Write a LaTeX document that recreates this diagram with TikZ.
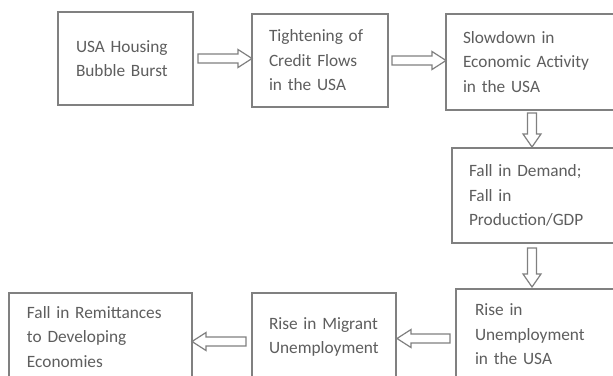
\documentclass[tikz,border=0pt]{standalone}
\usepackage{fontspec}
\setmainfont{Carlito}
\usetikzlibrary{calc}
\definecolor{bordergray}{HTML}{808080}
\definecolor{txtgray}{HTML}{5E5E5E}
\begin{document}
\begin{tikzpicture}[x=1pt,y=-1pt,
  box/.style={draw=bordergray, line width=1.6pt, anchor=north west, align=left,
    text=txtgray, font=\fontsize{17.3}{24.5}\selectfont, inner ysep=0pt, outer sep=0pt},
  blk/.style={draw=bordergray, line width=1.2pt, fill=white, line join=miter}]
\useasboundingbox (0,0) rectangle (613,375);
\clip (0,0) rectangle (613,375);
\fill[white] (0,0) rectangle (613,375);
% boxes
\node[box, minimum width=135pt, minimum height=93pt, text width=99pt, inner xsep=18pt] (B1) at (58,12) {USA~Housing\\Bubble~Burst};
\node[box, minimum width=136pt, minimum height=93pt, text width=102pt, inner xsep=17pt] (B2) at (252,14) {Tightening~of\\Credit~Flows\\in~the~USA};
\node[box, minimum width=186pt, minimum height=96pt, text width=152pt, inner xsep=17pt] (B3) at (446,14) {Slowdown~in\\Economic~Activity\\in~the~USA};
\node[box, minimum width=186pt, minimum height=95pt, text width=152pt, inner xsep=17pt] (B4) at (452,148) {Fall~in~Demand;\\Fall~in\\Production/GDP};
\node[box, minimum width=186pt, minimum height=91pt, text width=148pt, inner xsep=19pt] (B5) at (456,289) {Rise~in\\Unemployment\\in~the~USA};
\node[box, minimum width=144pt, minimum height=88pt, text width=110pt, inner xsep=17pt] (B6) at (252,293) {Rise~in~Migrant\\Unemployment};
\node[box, minimum width=183pt, minimum height=88pt, text width=147pt, inner xsep=18pt] (B7) at (9,293) {Fall~in~Remittances\\to~Developing\\Economies};
\coordinate (downx) at (532,0);
% right arrows
\draw[blk] let \p1=($(B1.east)+(5pt,0pt)$), \p2=($(B2.west)+(0pt,0pt)$) in
  (\x1,\y1+4.5pt) -- (\x2-14pt,\y1+4.5pt) -- (\x2-14pt,\y1+9pt) -- (\x2,\y1)
  -- (\x2-14pt,\y1-9pt) -- (\x2-14pt,\y1-4.5pt) -- (\x1,\y1-4.5pt) -- cycle;
\draw[blk] let \p1=($(B2.east)+(4pt,0pt)$), \p2=($(B3.west)+(0pt,0pt)$) in
  (\x1,\y1+4.5pt) -- (\x2-14pt,\y1+4.5pt) -- (\x2-14pt,\y1+9pt) -- (\x2,\y1)
  -- (\x2-14pt,\y1-9pt) -- (\x2-14pt,\y1-4.5pt) -- (\x1,\y1-4.5pt) -- cycle;
% down arrows
\draw[blk] let \p1=($(downx |- B3.south)+(0pt,-3pt)$), \p2=($(downx |- B4.north)+(0pt,1pt)$) in
  (\x1-4.5pt,\y1) -- (\x1-4.5pt,\y2+13pt) -- (\x1-9pt,\y2+13pt) -- (\x1,\y2)
  -- (\x1+9pt,\y2+13pt) -- (\x1+4.5pt,\y2+13pt) -- (\x1+4.5pt,\y1) -- cycle;
\draw[blk] let \p1=($(downx |- B4.south)+(0pt,-5pt)$), \p2=($(downx |- B5.north)+(0pt,2pt)$) in
  (\x1-4.5pt,\y1) -- (\x1-4.5pt,\y2+13pt) -- (\x1-9pt,\y2+13pt) -- (\x1,\y2)
  -- (\x1+9pt,\y2+13pt) -- (\x1+4.5pt,\y2+13pt) -- (\x1+4.5pt,\y1) -- cycle;
% left arrows
\draw[blk] let \p1=($(B5.west |- B6.east)+(-6pt,-1.5pt)$), \p2=($(B6.east)+(1pt,0pt)$) in
  (\x1,\y1+4.5pt) -- (\x2+14pt,\y1+4.5pt) -- (\x2+14pt,\y1+9pt) -- (\x2,\y1)
  -- (\x2+14pt,\y1-9pt) -- (\x2+14pt,\y1-4.5pt) -- (\x1,\y1-4.5pt) -- cycle;
\draw[blk] let \p1=($(B6.west)+(-6pt,-4.5pt)$), \p2=($(B7.east)+(0pt,0pt)$) in
  (\x1,\y1+4.5pt) -- (\x2+14pt,\y1+4.5pt) -- (\x2+14pt,\y1+9pt) -- (\x2,\y1)
  -- (\x2+14pt,\y1-9pt) -- (\x2+14pt,\y1-4.5pt) -- (\x1,\y1-4.5pt) -- cycle;
\end{tikzpicture}
\end{document}
